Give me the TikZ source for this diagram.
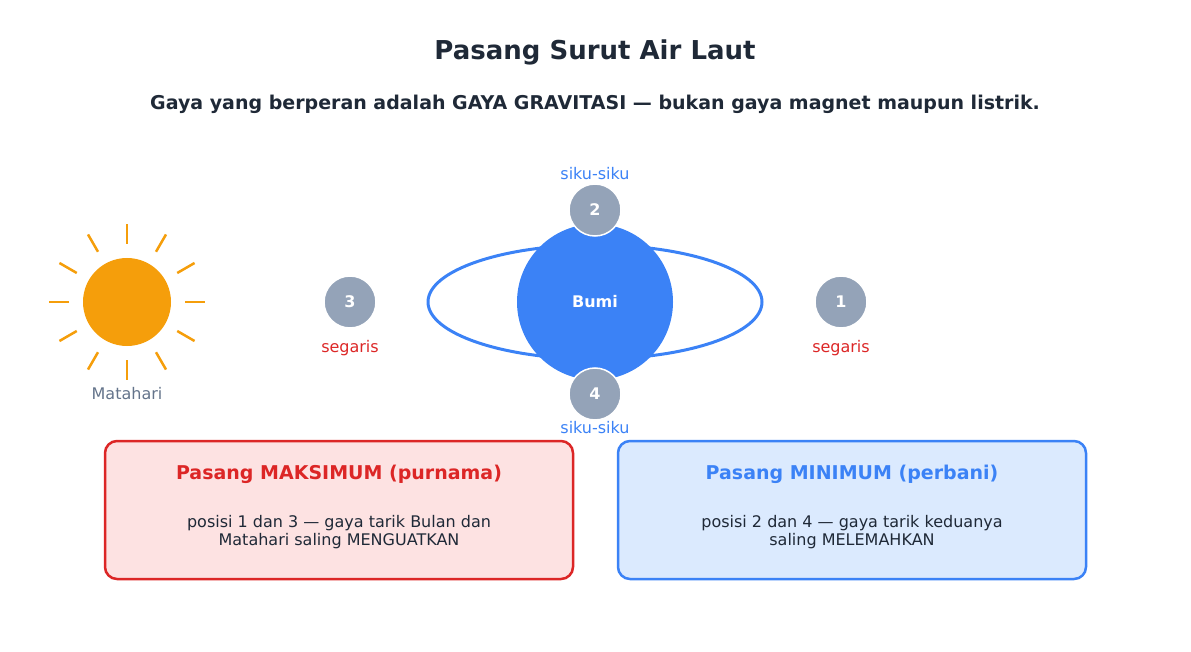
\documentclass[tikz,border=0pt]{standalone}
\usepackage{fontspec}
\setmainfont{DejaVu Sans}
\usetikzlibrary{positioning}
\definecolor{ink}{HTML}{1F2937}
\definecolor{sunc}{HTML}{F59E0B}
\definecolor{earth}{HTML}{3B82F6}
\definecolor{moonc}{HTML}{94A3B8}
\definecolor{redc}{HTML}{DC2626}
\definecolor{redf}{HTML}{FDE2E2}
\definecolor{bluef}{HTML}{DBEAFE}
\definecolor{grayt}{HTML}{64748B}
\tikzset{
  moon/.style={circle,draw=white,line width=1.5pt,fill=moonc,minimum size=52pt,inner sep=0pt,text=white,font=\fontsize{16}{18}\selectfont\bfseries},
  lbl/.style={font=\fontsize{16}{18}\selectfont},
  card/.style={rounded corners=12pt,line width=2.5pt}
}
\begin{document}
\begin{tikzpicture}[x=1pt,y=-1pt]
\useasboundingbox (0,0) rectangle (1191,652);
\node[text=ink,font=\fontsize{26}{30}\selectfont\bfseries] (title) at (595,52) {Pasang Surut Air Laut};
\node[text=ink,font=\fontsize{19}{22}\selectfont\bfseries] (sub) at (595,104) {Gaya yang berperan adalah GAYA GRAVITASI — bukan gaya magnet maupun listrik.};
% matahari
\node[circle,fill=sunc,minimum size=88pt,inner sep=0pt] (sun) at (127,302) {};
\foreach \a in {0,30,...,330}
  \draw[sunc,line width=2.5pt] (sun.center) ++(\a:58) -- ++(\a:20);
\node[lbl,text=grayt] (sunl) at (127,394) {Matahari};
% bumi
\draw[earth,line width=3pt] (595,302) ellipse (167 and 57);
\node[circle,fill=earth,minimum size=156pt,inner sep=0pt,text=white,font=\fontsize{16}{18}\selectfont\bfseries] (bumi) at (595,302) {Bumi};
\node[moon] (m2) at (595,210) {2};
\node[moon] (m4) at (595,394) {4};
\node[moon] (m3) at (350,302) {3};
\node[moon] (m1) at (841,302) {1};
\node[lbl,text=earth] at (595,174) {siku-siku};
\node[lbl,text=earth] at (595,428) {siku-siku};
\node[lbl,text=redc] at (350,348) {segaris};
\node[lbl,text=redc] at (841,348) {segaris};
% kotak
\draw[card,draw=redc,fill=redf] (105,441) rectangle (573,579);
\draw[card,draw=earth,fill=bluef] (618,441) rectangle (1086,579);
\node[text=redc,font=\fontsize{19}{22}\selectfont\bfseries] at (339,474) {Pasang MAKSIMUM (purnama)};
\node[text=earth,font=\fontsize{19}{22}\selectfont\bfseries] at (852,474) {Pasang MINIMUM (perbani)};
\node[lbl,text=ink,align=center] at (339,532) {posisi 1 dan 3 — gaya tarik Bulan dan\\Matahari saling MENGUATKAN};
\node[lbl,text=ink,align=center] at (852,532) {posisi 2 dan 4 — gaya tarik keduanya\\saling MELEMAHKAN};
\end{tikzpicture}
\end{document}
